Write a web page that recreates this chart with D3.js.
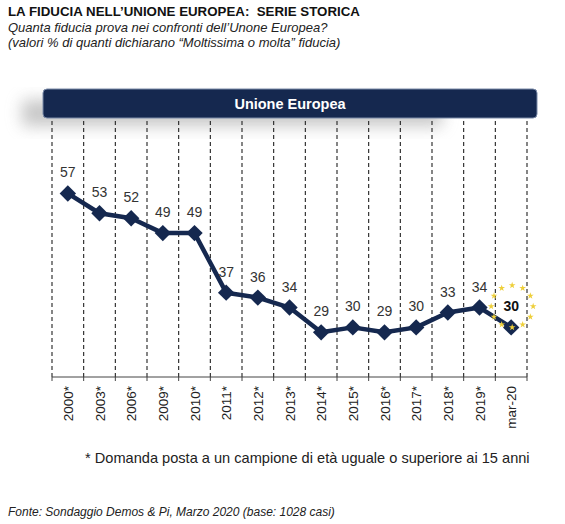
<!DOCTYPE html>
<html><head><meta charset="utf-8">
<script src="https://cdn.jsdelivr.net/npm/d3@7/dist/d3.min.js"></script>
<style>body{margin:0;background:#fff;}svg{display:block;font-family:Arial,"Liberation Sans",sans-serif;}</style>
</head><body><svg id="c" width="565" height="524"></svg>
<script>
const categories = ["2000*","2003*","2006*","2009*","2010*","2011*","2012*","2013*","2014*","2015*","2016*","2017*","2018*","2019*","mar-20"];
const values = [57,53,52,49,49,37,36,34,29,30,29,30,33,34,30];
const title = "LA FIDUCIA NELL\u2019UNIONE EUROPEA:  SERIE STORICA";
const subtitle1 = "Quanta fiducia prova nei confronti dell\u2019Unone  Europea?";
const subtitle2 = "(valori % di quanti dichiarano  \u201cMoltissima o molta\u201d fiducia)";
const panelTitle = "Unione Europea";
const footnote = "* Domanda posta a un campione di età uguale o superiore ai 15 anni";
const source = "Fonte: Sondaggio Demos & Pi, Marzo 2020 (base: 1028 casi)";

const svg = d3.select("#c");
const navy = "#15284f";
const defs = svg.append("defs");
defs.append("filter").attr("id","blur").attr("x","-20%").attr("y","-50%").attr("width","140%").attr("height","200%")
  .append("feGaussianBlur").attr("stdDeviation",8);

// headings
svg.append("text").attr("x",8).attr("y",16).attr("font-size",13.3).attr("font-weight","bold").attr("fill","#111").attr("xml:space","preserve").text(title);
svg.append("text").attr("x",8).attr("y",32).attr("font-size",13).attr("font-style","italic").attr("fill","#222").text(subtitle1);
svg.append("text").attr("x",8).attr("y",47).attr("font-size",13).attr("font-style","italic").attr("fill","#222").text(subtitle2);

// scales
const x = d3.scaleBand().domain(categories).range([52,527]).padding(0);
const y = d3.scaleLinear().domain([20,72]).range([377,119]);

// soft shadow around banner
svg.append("rect").attr("x",22).attr("y",100).attr("width",420).attr("height",26).attr("fill","#9a9a9a").attr("opacity",0.55).attr("filter","url(#blur)");

// banner
svg.append("rect").attr("x",43).attr("y",89).attr("width",494).attr("height",29).attr("rx",4)
  .attr("fill",navy).attr("stroke","#7a8aa8").attr("stroke-width",1);
svg.append("text").attr("x",290).attr("y",109).attr("text-anchor","middle").attr("font-size",14.5)
  .attr("font-weight","bold").attr("fill","#fff").text(panelTitle);

// dashed gridlines at band boundaries
const bounds = categories.map(c => x(c)).concat([x.range()[1]]);
svg.append("g").selectAll("line").data(bounds).join("line")
  .attr("x1",d=>d).attr("x2",d=>d).attr("y1",121).attr("y2",377)
  .attr("stroke","#222").attr("stroke-width",1.1).attr("stroke-dasharray","4,3");

// x axis
const xAxis = d3.axisBottom(x).tickSize(0).tickFormat("");
const ax = svg.append("g").attr("transform","translate(0,377)").call(xAxis);
ax.select(".domain").attr("stroke","#444").attr("stroke-width",1).attr("d","M52,0H527");
svg.append("g").selectAll("line").data(bounds).join("line")
  .attr("x1",d=>d).attr("x2",d=>d).attr("y1",377).attr("y2",381).attr("stroke","#444");
svg.append("g").selectAll("text").data(categories).join("text")
  .attr("transform",d=>`translate(${x(d)+x.bandwidth()/2+5},386) rotate(-90)`)
  .attr("text-anchor","end").attr("font-size",13.5).attr("fill","#222").text(d=>d);

// line
const pts = categories.map((c,i)=>({c, v:values[i]}));
svg.append("path").datum(pts)
  .attr("d", d3.line().x(d=>x(d.c)+x.bandwidth()/2).y(d=>y(d.v)))
  .attr("fill","none").attr("stroke",navy).attr("stroke-width",4.5).attr("stroke-linejoin","round");
svg.append("g").selectAll("path").data(pts).join("path")
  .attr("d", d3.symbol().type(d3.symbolSquare).size(135))
  .attr("transform",d=>`translate(${x(d.c)+x.bandwidth()/2},${y(d.v)}) rotate(45)`)
  .attr("fill",navy);

// EU stars circle around last point label
const last = pts[pts.length-1];
const cx = x(last.c)+x.bandwidth()/2+1, cy = y(last.v)-21;
const star = d3.symbol().type(d3.symbolStar).size(14);
svg.append("g").selectAll("path").data(d3.range(12)).join("path")
  .attr("d", star)
  .attr("transform",i=>`translate(${cx+21*Math.cos(i*Math.PI/6)},${cy+21*Math.sin(i*Math.PI/6)})`)
  .attr("fill","#eecf3a");

// value labels
svg.append("g").selectAll("text").data(pts).join("text")
  .attr("x",d=>x(d.c)+x.bandwidth()/2)
  .attr("y",d=>y(d.v)-16)
  .attr("text-anchor","middle").attr("font-size",14)
  .attr("font-weight",(d,i)=> i===pts.length-1 ? "bold":"normal")
  .attr("fill",(d,i)=> i===pts.length-1 ? "#111":"#333").text(d=>d.v);

// footnote and source
svg.append("text").attr("x",85).attr("y",463).attr("font-size",14.6).attr("fill","#222").text(footnote);
svg.append("text").attr("x",8).attr("y",516).attr("font-size",12).attr("font-style","italic").attr("fill","#222").text(source);
</script></body></html>
